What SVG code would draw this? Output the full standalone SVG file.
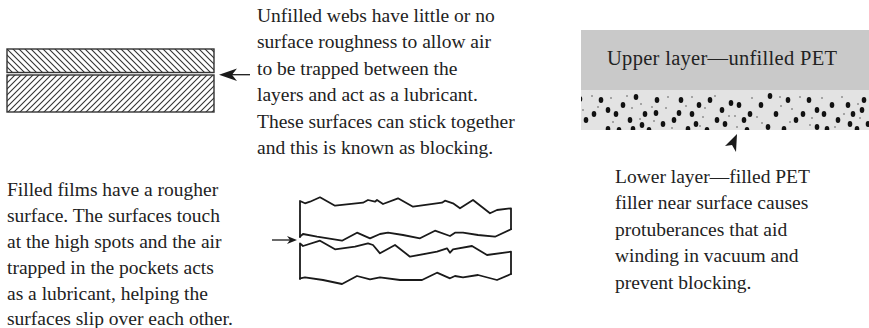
<svg xmlns="http://www.w3.org/2000/svg" xmlns:xlink="http://www.w3.org/1999/xlink" width="869" height="328" viewBox="0 0 869 328">
  <style>
    .t { font-family: "Liberation Serif", "Times New Roman", serif; font-size: 19.5px; fill: #222; }
    .edge { fill: none; stroke: #333; stroke-width: 1.4; }
    .wave { fill: none; stroke: #1a1a1a; stroke-width: 1.8; stroke-linejoin: round; stroke-linecap: round; }
    .lead { stroke: #1a1a1a; stroke-width: 1.3; }
    .head { fill: #1a1a1a; }
  </style>
  <defs>
    <pattern id="hatchBack" patternUnits="userSpaceOnUse" width="6" height="6">
      <path d="M-1,-1 L7,7 M-1,5 L1,7 M5,-1 L7,1" stroke="#333" stroke-width="1.1"/>
    </pattern>
    <pattern id="hatchFwd" patternUnits="userSpaceOnUse" width="6" height="6">
      <path d="M-1,7 L7,-1 M-1,1 L1,-1 M5,7 L7,5" stroke="#333" stroke-width="1.1"/>
    </pattern>
    <ellipse id="d" rx="2.3" ry="3" fill="#111"/>
    <circle id="s" r="0.8" fill="#555"/>
    <clipPath id="bandClip"><rect x="581" y="90" width="288" height="40"/></clipPath>
  </defs>

  <!-- Unfilled webs: two hatched layers -->
  <g id="unfilled-webs">
    <rect x="7" y="49" width="207" height="23.5" fill="url(#hatchBack)"/>
    <rect x="7" y="49" width="207" height="23.5" class="edge"/>
    <rect x="7" y="75" width="207" height="37" fill="url(#hatchFwd)"/>
    <rect x="7" y="75" width="207" height="37" class="edge"/>
  </g>

  <g id="unfilled-note">
    <text class="t" x="257" y="22">Unfilled webs have little or no</text>
    <text class="t" x="257" y="48.4">surface roughness to allow air</text>
    <text class="t" x="257" y="74.8">to be trapped between the</text>
    <text class="t" x="257" y="101.2">layers and act as a lubricant.</text>
    <text class="t" x="257" y="127.6">These surfaces can stick together</text>
    <text class="t" x="257" y="154">and this is known as blocking.</text>
  </g>

  <!-- Filled films: rough wavy layers, closed at both ends -->
  <g id="filled-films">
    <polyline class="wave" points="300,237 300,201 305,203.3 310,201.7 320,197.3 335,205.7 363,202.7 368,200 375,201.7 377,200 383,204 398,198.3 413,206.7 442,202.7 445,200.7 453,203.3 460,208.3 473,200 490,213.3 497,210 511,208.3 511,229"/>
    <polyline class="wave" points="300,236.7 303,234 317,236.7 342,240.7 357,232.7 370,238.3 380,234 388,232.7 403,235 420,238.3 435,230.7 450,236 455,232.7 463,232.7 478,235 495,236.7 511,229.3"/>
    <polyline class="wave" points="300,279 300,243.3 303,246 320,240.7 335,249.3 355,246.7 368,243.3 373,245 380,253.3 395,245 410,256.7 437,251.7 447,248.3 450,252.7 453,249.3 472,246 487,255 511,251.7 511,274"/>
    <polyline class="wave" points="300,278.3 305,277.3 323,280 342,284 357,276 370,279.3 380,277.3 400,280 422,280 437,272.7 450,278.3 455,276 463,277.3 478,275 497,280 511,274"/>
  </g>

  <g id="filled-note">
    <text class="t" x="7" y="196">Filled films have a rougher</text>
    <text class="t" x="7" y="222">surface. The surfaces touch</text>
    <text class="t" x="7" y="248">at the high spots and the air</text>
    <text class="t" x="7" y="274">trapped in the pockets acts</text>
    <text class="t" x="7" y="300">as a lubricant, helping the</text>
    <text class="t" x="7" y="325">surfaces slip over each other.</text>
  </g>

  <!-- PET cross-section -->
  <g id="pet-layers">
    <rect x="581" y="30" width="288" height="60" fill="#c9c9c9"/>
    <rect x="581" y="90" width="288" height="40" fill="#e3e3e3"/>
    <text class="t" x="607" y="65" style="font-size:20.5px" textLength="230" lengthAdjust="spacing">Upper layer—unfilled PET</text>
    <g clip-path="url(#bandClip)">
      <use xlink:href="#d" x="580" y="99"/><use xlink:href="#d" x="601" y="100"/><use xlink:href="#d" x="623" y="105"/>
      <use xlink:href="#d" x="586" y="120"/><use xlink:href="#d" x="594" y="114"/><use xlink:href="#d" x="608" y="110"/>
      <use xlink:href="#d" x="616" y="114"/><use xlink:href="#d" x="630" y="120"/><use xlink:href="#d" x="608" y="129"/>
      <use xlink:href="#d" x="619" y="130"/><use xlink:href="#d" x="642" y="125"/><use xlink:href="#d" x="645" y="114"/>
      <use xlink:href="#d" x="649" y="130"/><use xlink:href="#d" x="656" y="113"/><use xlink:href="#d" x="657" y="100"/>
      <use xlink:href="#d" x="663" y="124"/><use xlink:href="#d" x="674" y="120"/><use xlink:href="#d" x="681" y="100"/>
      <use xlink:href="#d" x="679" y="113"/><use xlink:href="#d" x="688" y="129"/><use xlink:href="#d" x="692" y="114"/>
      <use xlink:href="#d" x="699" y="105"/><use xlink:href="#d" x="696" y="124"/><use xlink:href="#d" x="707" y="130"/>
      <use xlink:href="#d" x="710" y="100"/><use xlink:href="#d" x="717" y="120"/><use xlink:href="#d" x="722" y="110"/>
      <use xlink:href="#d" x="725" y="124"/><use xlink:href="#d" x="731" y="103"/><use xlink:href="#d" x="739" y="105"/>
      <use xlink:href="#d" x="744" y="120"/><use xlink:href="#d" x="750" y="114"/><use xlink:href="#d" x="747" y="130"/>
      <use xlink:href="#d" x="761" y="105"/><use xlink:href="#d" x="768" y="127"/><use xlink:href="#d" x="776" y="114"/>
      <use xlink:href="#d" x="788" y="100"/><use xlink:href="#d" x="784" y="129"/><use xlink:href="#d" x="796" y="120"/>
      <use xlink:href="#d" x="803" y="114"/><use xlink:href="#d" x="809" y="100"/><use xlink:href="#d" x="817" y="110"/>
      <use xlink:href="#d" x="817" y="127"/><use xlink:href="#d" x="824" y="114"/><use xlink:href="#d" x="832" y="105"/>
      <use xlink:href="#d" x="838" y="120"/><use xlink:href="#d" x="827" y="129"/><use xlink:href="#d" x="848" y="105"/>
      <use xlink:href="#d" x="853" y="114"/><use xlink:href="#d" x="862" y="110"/><use xlink:href="#d" x="864" y="100"/>
      <use xlink:href="#d" x="850" y="124"/><use xlink:href="#d" x="857" y="129"/><use xlink:href="#d" x="868" y="124"/>
      <use xlink:href="#d" x="636" y="97"/><use xlink:href="#d" x="770" y="96"/><use xlink:href="#d" x="633" y="129"/>
      <use xlink:href="#s" x="592" y="96"/><use xlink:href="#s" x="611" y="98"/><use xlink:href="#s" x="598" y="107"/>
      <use xlink:href="#s" x="632" y="108"/><use xlink:href="#s" x="627" y="96"/><use xlink:href="#s" x="641" y="104"/>
      <use xlink:href="#s" x="652" y="107"/><use xlink:href="#s" x="668" y="97"/><use xlink:href="#s" x="666" y="108"/>
      <use xlink:href="#s" x="686" y="106"/><use xlink:href="#s" x="692" y="97"/><use xlink:href="#s" x="703" y="117"/>
      <use xlink:href="#s" x="715" y="96"/><use xlink:href="#s" x="705" y="108"/><use xlink:href="#s" x="735" y="116"/>
      <use xlink:href="#s" x="752" y="98"/><use xlink:href="#s" x="757" y="117"/><use xlink:href="#s" x="780" y="97"/>
      <use xlink:href="#s" x="781" y="106"/><use xlink:href="#s" x="792" y="109"/><use xlink:href="#s" x="800" y="97"/>
      <use xlink:href="#s" x="812" y="118"/><use xlink:href="#s" x="822" y="98"/><use xlink:href="#s" x="842" y="97"/>
      <use xlink:href="#s" x="844" y="114"/><use xlink:href="#s" x="858" y="104"/><use xlink:href="#s" x="613" y="122"/>
      <use xlink:href="#s" x="640" y="119"/><use xlink:href="#s" x="672" y="128"/><use xlink:href="#s" x="700" y="126"/>
      <use xlink:href="#s" x="737" y="127"/><use xlink:href="#s" x="762" y="123"/><use xlink:href="#s" x="790" y="122"/>
      <use xlink:href="#s" x="810" y="125"/><use xlink:href="#s" x="835" y="127"/><use xlink:href="#s" x="860" y="118"/>
      <use xlink:href="#s" x="583" y="110"/><use xlink:href="#s" x="654" y="121"/><use xlink:href="#s" x="729" y="116"/>
    </g>
  </g>

  <g id="pet-note">
    <text class="t" x="615" y="183">Lower layer—filled PET</text>
    <text class="t" x="615" y="209.4">filler near surface causes</text>
    <text class="t" x="615" y="235.8">protuberances that aid</text>
    <text class="t" x="615" y="262.2">winding in vacuum and</text>
    <text class="t" x="615" y="288.6">prevent blocking.</text>
  </g>

  <!-- connectors -->
  <g id="connectors">
    <line class="lead" x1="231" y1="74.7" x2="250" y2="74.7"/>
    <path class="head" d="M219,74.7 L237,68.5 L232,74.7 L237,81 Z"/>
    <line class="lead" x1="272" y1="240" x2="290" y2="240"/>
    <path class="head" d="M297,240 L287,236 L290,240 L287,244 Z"/>
    <path class="head" d="M737,134 L725,146 L732,145 L736,152 Z"/>
  </g>
</svg>
